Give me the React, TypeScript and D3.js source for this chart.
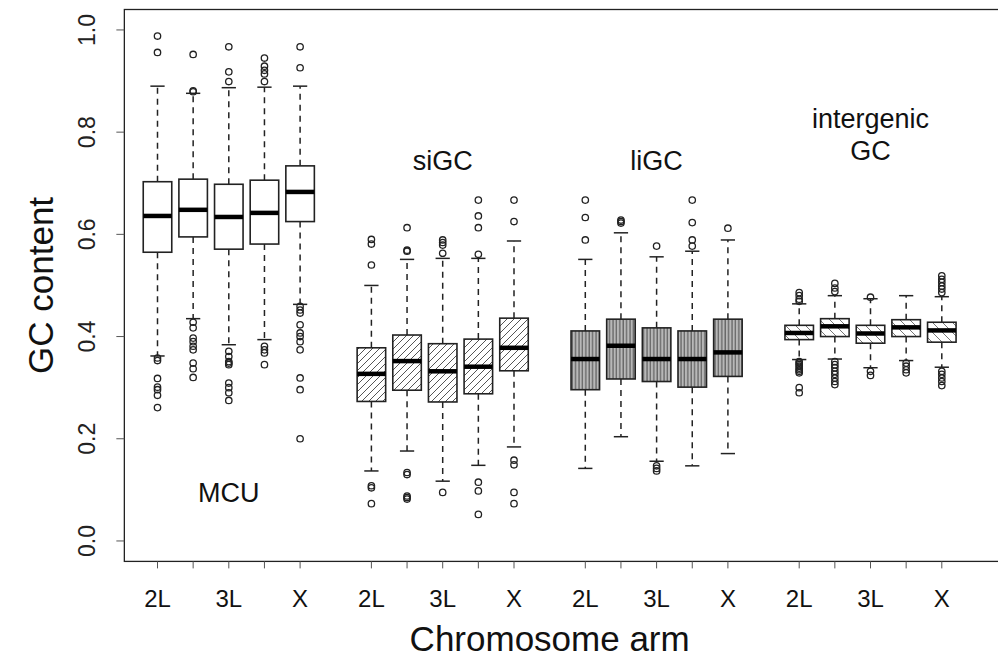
import * as d3 from "d3";

// Chromosome arms per group; R dropped the 2R / 3R labels because they overlap
const arms = ["2L", "2R", "3L", "3R", "X"];
const shownArms = ["2L", "3L", "X"];
const groups = ["MCU", "siGC", "liGC", "intergenic GC"];
const yTicks = [0, 0.2, 0.4, 0.6, 0.8, 1.0];

// [lower whisker, q1, median, q3, upper whisker] for each arm
const mcuStats = [
  [0.362, 0.565, 0.636, 0.703, 0.89],
  [0.435, 0.595, 0.648, 0.708, 0.876],
  [0.384, 0.571, 0.634, 0.698, 0.887],
  [0.394, 0.581, 0.642, 0.706, 0.888],
  [0.463, 0.625, 0.683, 0.734, 0.89],
];
const mcuOutliers = [
  [0.988, 0.956, 0.358, 0.353, 0.318, 0.301, 0.296, 0.285, 0.261],
  [0.952, 0.881, 0.879, 0.428, 0.417, 0.397, 0.39, 0.381, 0.374, 0.348, 0.337, 0.32],
  [0.967, 0.918, 0.899, 0.371, 0.361, 0.351, 0.348, 0.345, 0.309, 0.3, 0.29, 0.275],
  [0.945, 0.929, 0.921, 0.914, 0.899, 0.381, 0.374, 0.368, 0.345],
  [0.967, 0.926, 0.459, 0.452, 0.446, 0.423, 0.407, 0.4, 0.39, 0.374, 0.319, 0.296, 0.2],
];

const siStats = [
  [0.137, 0.273, 0.327, 0.378, 0.5],
  [0.176, 0.295, 0.352, 0.403, 0.551],
  [0.117, 0.272, 0.332, 0.386, 0.553],
  [0.148, 0.288, 0.341, 0.395, 0.553],
  [0.184, 0.333, 0.378, 0.436, 0.587],
];
const siOutliers = [
  [0.59, 0.581, 0.54, 0.108, 0.104, 0.073],
  [0.613, 0.569, 0.567, 0.134, 0.13, 0.088, 0.085, 0.082],
  [0.589, 0.584, 0.579, 0.563, 0.095],
  [0.667, 0.636, 0.613, 0.561, 0.115, 0.098, 0.052],
  [0.667, 0.625, 0.158, 0.149, 0.095, 0.073],
];

const liStats = [
  [0.142, 0.296, 0.356, 0.411, 0.551],
  [0.204, 0.317, 0.382, 0.434, 0.603],
  [0.156, 0.312, 0.356, 0.417, 0.556],
  [0.147, 0.301, 0.356, 0.411, 0.567],
  [0.171, 0.322, 0.369, 0.434, 0.589],
];
const liOutliers = [
  [0.667, 0.633, 0.589],
  [0.628, 0.625, 0.622],
  [0.577, 0.147, 0.142, 0.137],
  [0.667, 0.623, 0.589, 0.577],
  [0.612],
];

const igStats = [
  [0.355, 0.394, 0.407, 0.422, 0.464],
  [0.356, 0.4, 0.42, 0.435, 0.48],
  [0.339, 0.387, 0.406, 0.422, 0.474],
  [0.353, 0.4, 0.418, 0.433, 0.48],
  [0.34, 0.389, 0.412, 0.428, 0.478],
];
const igOutliers = [
  [0.486, 0.48, 0.473, 0.469, 0.351, 0.348, 0.345, 0.342, 0.338, 0.335, 0.332, 0.329, 0.3, 0.29],
  [0.504, 0.495, 0.488, 0.351, 0.345, 0.339, 0.332, 0.326, 0.319, 0.312, 0.306],
  [0.477, 0.332, 0.324],
  [0.348, 0.342, 0.335, 0.329],
  [0.519, 0.512, 0.506, 0.499, 0.493, 0.486, 0.332, 0.326, 0.319, 0.312, 0.304],
];

const groupStats = [mcuStats, siStats, liStats, igStats];
const groupOutliers = [mcuOutliers, siOutliers, liOutliers, igOutliers];
const groupFills = ["#ffffff", "url(#hatchSi)", "url(#hatchLi)", "url(#hatchIg)"];

const W = 998;
const H = 659;
const font = "'Liberation Sans', Arial, Helvetica, sans-serif";

export default function App() {
  // boxes sit at 1..5, 7..11, 13..17, 19..23
  const pos = (g: number, i: number) => g * 6 + i + 1;
  const x = d3.scaleLinear().domain([1, 23]).range([157.5, 941.8]);
  const y = d3.scaleLinear().domain([-0.04, 1.04]).range([561.4, 9.5]);
  const unit = x(2) - x(1);
  const boxW = unit * 0.8;
  const capW = boxW * 0.5;
  const left = x(0.07);
  const top = y(1.04);
  const bottom = y(-0.04);

  const boxes = groupStats.flatMap((stats, g) =>
    stats.map((s, i) => ({ g, i, s, out: groupOutliers[g][i], cx: x(pos(g, i)) }))
  );

  return (
    <svg
      width={W}
      height={H}
      style={{ position: "absolute", left: 0, top: 0, background: "#fff" }}
      fontFamily={font}
    >
      <defs>
        <pattern id="hatchSi" patternUnits="userSpaceOnUse" width={7} height={7}>
          <rect width={7} height={7} fill="#fff" />
          <path d="M-1,1 l2,-2 M0,7 l7,-7 M6,8 l2,-2" stroke="#555" strokeWidth={1} />
        </pattern>
        <pattern id="hatchLi" patternUnits="userSpaceOnUse" width={3.4} height={10}>
          <rect width={3.4} height={10} fill="#b8b8b8" />
          <line x1={1} y1={0} x2={1} y2={10} stroke="#555" strokeWidth={1.1} />
        </pattern>
        <pattern id="hatchIg" patternUnits="userSpaceOnUse" width={10} height={10}>
          <rect width={10} height={10} fill="#fff" />
          <path d="M-1,9 l2,2 M0,0 l10,10 M9,-1 l2,2" stroke="#777" strokeWidth={1} />
        </pattern>
      </defs>

      {/* boxes */}
      {boxes.map((b) => {
        const [lo, q1, med, q3, hi] = b.s;
        return (
          <g key={`${b.g}-${b.i}`}>
            <line x1={b.cx} x2={b.cx} y1={y(q3)} y2={y(hi)} stroke="#222" strokeWidth={1.5} strokeDasharray="6,5" />
            <line x1={b.cx} x2={b.cx} y1={y(q1)} y2={y(lo)} stroke="#222" strokeWidth={1.5} strokeDasharray="6,5" />
            <line x1={b.cx - capW / 2} x2={b.cx + capW / 2} y1={y(hi)} y2={y(hi)} stroke="#222" strokeWidth={1.5} />
            <line x1={b.cx - capW / 2} x2={b.cx + capW / 2} y1={y(lo)} y2={y(lo)} stroke="#222" strokeWidth={1.5} />
            <rect
              x={b.cx - boxW / 2}
              y={y(q3)}
              width={boxW}
              height={y(q1) - y(q3)}
              fill={groupFills[b.g]}
              stroke="#222"
              strokeWidth={1.6}
            />
            <line x1={b.cx - boxW / 2} x2={b.cx + boxW / 2} y1={y(med)} y2={y(med)} stroke="#000" strokeWidth={4.5} />
            {b.out.map((v, k) => (
              <circle key={k} cx={b.cx} cy={y(v)} r={3.2} fill="none" stroke="#222" strokeWidth={1.3} />
            ))}
          </g>
        );
      })}

      {/* frame */}
      <rect x={left} y={top} width={W + 20 - left} height={bottom - top} fill="none" stroke="#222" strokeWidth={1.3} />

      {/* y axis */}
      {yTicks.map((t) => (
        <g key={t}>
          <line x1={left - 8} x2={left} y1={y(t)} y2={y(t)} stroke="#555" strokeWidth={1} />
          <text
            transform={`translate(${left - 38},${y(t)}) rotate(-90)`}
            textAnchor="middle"
            dy="0.36em"
            fontSize={23}
            fill="#222"
          >
            {t.toFixed(1)}
          </text>
        </g>
      ))}
      <text transform={`translate(40,${y(0.5)}) rotate(-90)`} textAnchor="middle" dy="0.36em" fontSize={35} fill="#111">
        GC content
      </text>

      {/* x axis */}
      {groups.map((_, g) =>
        arms.map((a, i) => (
          <g key={`${g}-${a}`}>
            <line x1={x(pos(g, i))} x2={x(pos(g, i))} y1={bottom} y2={bottom + 7} stroke="#555" strokeWidth={1} />
            {shownArms.includes(a) && (
              <text x={x(pos(g, i))} y={598} dy="0.36em" textAnchor="middle" fontSize={24} fill="#111">
                {a}
              </text>
            )}
          </g>
        ))
      )}
      <text x={x(12)} y={638} dy="0.36em" textAnchor="middle" fontSize={35} fill="#111">
        Chromosome arm
      </text>

      {/* group labels */}
      <text x={x(pos(0, 2))} y={492} dy="0.36em" textAnchor="middle" fontSize={27} fill="#111">
        MCU
      </text>
      <text x={x(pos(1, 2))} y={160} dy="0.36em" textAnchor="middle" fontSize={27} fill="#111">
        siGC
      </text>
      <text x={x(pos(2, 2))} y={160} dy="0.36em" textAnchor="middle" fontSize={27} fill="#111">
        liGC
      </text>
      <text x={x(pos(3, 2))} y={118} dy="0.36em" textAnchor="middle" fontSize={27} fill="#111">
        intergenic
      </text>
      <text x={x(pos(3, 2))} y={150} dy="0.36em" textAnchor="middle" fontSize={27} fill="#111">
        GC
      </text>
    </svg>
  );
}
